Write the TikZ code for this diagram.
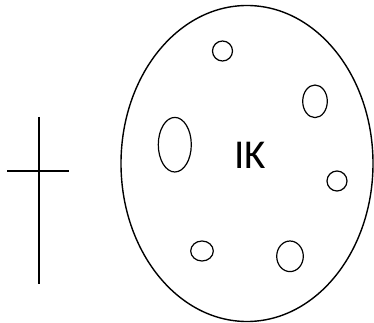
\documentclass[tikz,border=0pt]{standalone}
\usepackage{fontspec}
\setmainfont{Carlito}
\usetikzlibrary{shapes.geometric}

\begin{document}
\begin{tikzpicture}[x=1pt,y=-1pt,line width=1.4pt,
  hole/.style={draw,ellipse,inner sep=0pt,line width=1.2pt}]
\useasboundingbox (0,0) rectangle (374,323);

% cross
\coordinate (top) at (39,117);
\coordinate (foot) at (39,284);
\coordinate (left) at (7,171);
\coordinate (right) at (69,171);
\draw (top) -- (foot);
\draw (left) -- (right);

% cell
\draw (247,163.5) ellipse [x radius=126,y radius=158];
\node (ik) at (250,155) {\fontsize{41}{41}\selectfont IK};

\node[hole,minimum width=20pt,minimum height=20pt] (h1) at (222.5,51) {};
\node[hole,minimum width=24.6pt,minimum height=32.6pt] (h2) at (315,101.3) {};
\node[hole,minimum width=33pt,minimum height=54.6pt] (h3) at (174.8,144.7) {};
\node[hole,minimum width=20pt,minimum height=20pt] (h4) at (337,181) {};
\node[hole,minimum width=22.6pt,minimum height=20pt] (h5) at (202,251) {};
\node[hole,minimum width=26.6pt,minimum height=30.6pt] (h6) at (290,256.3) {};
\end{tikzpicture}
\end{document}
